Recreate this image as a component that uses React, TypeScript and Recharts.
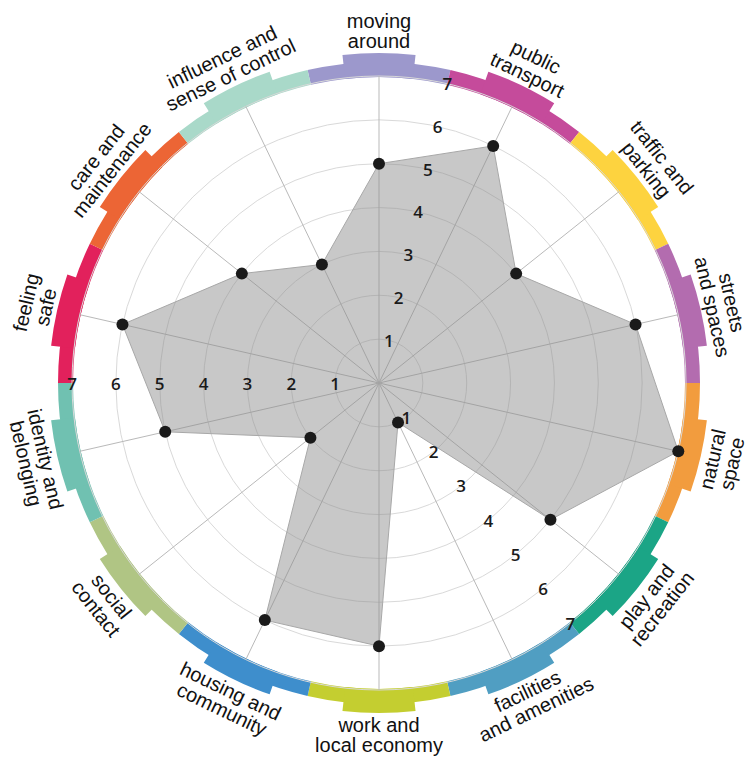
import React from 'react';
import {
  RadarChart, Radar, PolarGrid, PolarAngleAxis, PolarRadiusAxis,
  PieChart, Pie, Cell,
} from 'recharts';

// categories clockwise from the top, '\n' marks the line break of the label
const categories = [
  'moving\naround',
  'public\ntransport',
  'traffic and\nparking',
  'streets\nand spaces',
  'natural\nspace',
  'play and\nrecreation',
  'facilities\nand amenities',
  'work and\nlocal economy',
  'housing and\ncommunity',
  'social\ncontact',
  'identity and\nbelonging',
  'feeling\nsafe',
  'care and\nmaintenance',
  'influence and\nsense of control',
];

const scores = [5, 6, 4, 6, 7, 5, 1, 6, 6, 2, 5, 6, 4, 3];

const bandColors = [
  '#9c98cc', '#c54b9b', '#fdd33f', '#b36caf', '#f29c3e', '#1ba586', '#509ec2',
  '#c4ce30', '#3e8ecc', '#b0c584', '#70c1b1', '#e2215c', '#ec6535', '#a9d9c9',
];

// every category gets the same share of the outer ring
const bandWeights = [1, 1, 1, 1, 1, 1, 1, 1, 1, 1, 1, 1, 1, 1];

const W = 750;
const H = 760;
const CX = 379;
const CY = 383;
const R = 307;
const LABEL_R = 352;
const SECTOR = 360 / categories.length;
const RAISED_GAP = 13;

const data = categories.map((label, i) => ({ label, score: scores[i] }));
const bandData = categories.map((label, i) => ({ label, w: bandWeights[i] }));

function CategoryTick(props: any) {
  const { payload } = props;
  const cx = props.cx ?? CX;
  const cy = props.cy ?? CY;
  const angle = payload.coordinate;
  const rad = (angle * Math.PI) / 180;
  const x = cx + LABEL_R * Math.cos(rad);
  const y = cy - LABEL_R * Math.sin(rad);
  // labels in the lower half are turned so they stay readable
  const flip = Math.sin(rad) < -0.01;
  const rot = flip ? 270 - angle : 90 - angle;
  const lines = String(payload.value).split('\n');
  return (
    <g transform={`translate(${x},${y}) rotate(${rot})`}>
      <text
        textAnchor="middle"
        fontFamily="'Liberation Sans', Arial, sans-serif"
        fontSize={20}
        fill="#111"
      >
        {lines.map((l, i) => (
          <tspan key={i} x={0} y={-3 + i * 20}>{l}</tspan>
        ))}
      </text>
    </g>
  );
}

function RadiusTick(props: any) {
  const { x, y, payload } = props;
  if (payload.value === 0) return <g />;
  return (
    <text
      x={x}
      y={y}
      textAnchor="middle"
      dominantBaseline="central"
      fontFamily="'Open Sans', sans-serif"
      fontWeight={600}
      fontSize={17}
      fill="#1a1a1a"
    >
      {payload.value}
    </text>
  );
}

// the same 0-7 scale is labelled along three sector boundaries
const tickAxes = [
  { id: 0, angle: 90 - SECTOR / 2 },
  { id: 1, angle: 180 },
  { id: 2, angle: 90 - 5.5 * SECTOR },
];

export default function App() {
  const raisedSpan = (360 - categories.length * RAISED_GAP) / categories.length;
  const layer: React.CSSProperties = { position: 'absolute', left: 0, top: 0 };
  return (
    <div style={{ position: 'absolute', left: 0, top: 0, width: W, height: H, background: '#fff' }}>
      <div style={layer}>
        <PieChart width={W} height={H} margin={{ top: 0, right: 0, bottom: 0, left: 0 }}>
          <Pie
            data={bandData}
            dataKey="w"
            cx={CX}
            cy={CY}
            innerRadius={R - 1}
            outerRadius={321}
            startAngle={90 + SECTOR / 2}
            endAngle={90 + SECTOR / 2 - 360}
            stroke="none"
            isAnimationActive={false}
          >
            {bandData.map((d, i) => <Cell key={d.label} fill={bandColors[i]} />)}
          </Pie>
          <Pie
            data={bandData}
            dataKey="w"
            cx={CX}
            cy={CY}
            innerRadius={R - 1}
            outerRadius={330}
            startAngle={90 + raisedSpan / 2}
            endAngle={90 + raisedSpan / 2 - 360}
            paddingAngle={RAISED_GAP}
            stroke="none"
            isAnimationActive={false}
          >
            {bandData.map((d, i) => <Cell key={d.label} fill={bandColors[i]} />)}
          </Pie>
        </PieChart>
      </div>
      <div style={layer}>
        <RadarChart
          width={W}
          height={H}
          cx={CX}
          cy={CY}
          outerRadius={R}
          data={data}
          margin={{ top: 0, right: 0, bottom: 0, left: 0 }}
        >
          <PolarGrid gridType="circle" radialLines={false} stroke="#d9d9d9" />
          <PolarGrid gridType="circle" polarRadius={[0]} stroke="#b9b9b9" />
          <PolarAngleAxis dataKey="label" tick={CategoryTick} axisLine={false} tickLine={false} />
          {tickAxes.map((a) => (
            <PolarRadiusAxis
              key={a.id}
              radiusAxisId={a.id}
              angle={a.angle}
              domain={[0, 7]}
              tickCount={8}
              axisLine={false}
              tick={RadiusTick}
            />
          ))}
          <Radar
            dataKey="score"
            fill="#8c8c8c"
            fillOpacity={0.48}
            stroke="#a8a8a8"
            strokeWidth={1}
            dot={{ r: 6, fill: '#1a1a1a', fillOpacity: 1, stroke: 'none' }}
            isAnimationActive={false}
          />
          {/* invisible copies so the extra label axes get a scale */}
          {tickAxes.slice(1).map((a) => (
            <Radar
              key={a.id}
              radiusAxisId={a.id}
              dataKey="score"
              fill="none"
              stroke="none"
              dot={false}
              isAnimationActive={false}
            />
          ))}
        </RadarChart>
      </div>
    </div>
  );
}
